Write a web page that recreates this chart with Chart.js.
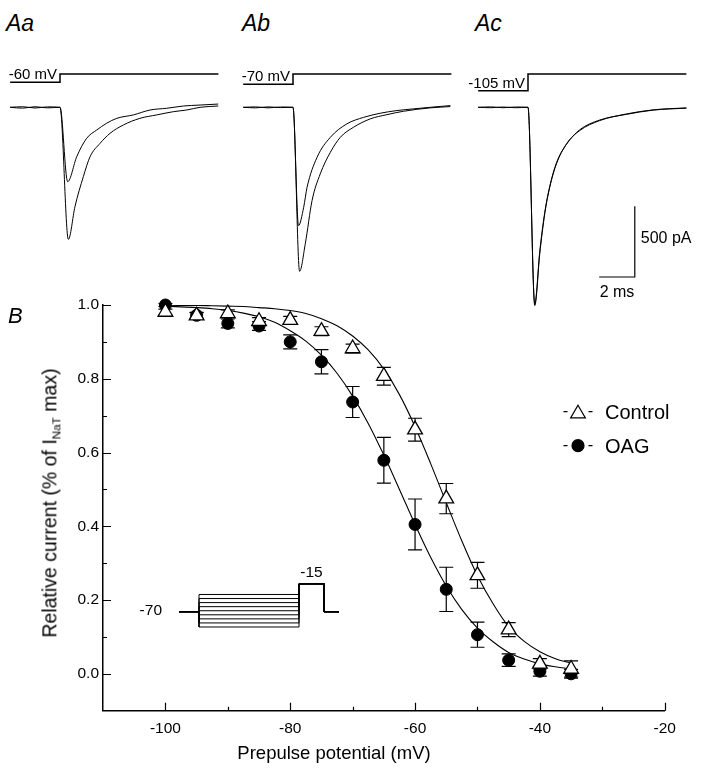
<!DOCTYPE html>
<html>
<head>
<meta charset="utf-8">
<script src="https://cdn.jsdelivr.net/npm/chart.js@4.4.1/dist/chart.umd.min.js"></script>
<style>
  html, body { margin: 0; padding: 0; background: #fff; }
  #fig { position: relative; width: 704px; height: 773px; overflow: hidden;
         font-family: "Liberation Sans", Arial, Helvetica, sans-serif; color: #000; }
  #fig canvas { position: absolute; }
  .lbl { position: absolute; line-height: 1; white-space: nowrap; }
  .panel { font-size: 23px; font-style: italic; }
  #ytitle { left: 51px; top: 503px; font-size: 19.5px; transform: translate(-50%, -50%) rotate(-90deg); }
  #ytitle sub { font-size: 0.6em; vertical-align: -0.3em; }
  #xtitle { left: 334px; top: 744px; font-size: 18.5px; transform: translateX(-50%); }
</style>
</head>
<body>
<div id="fig">
  <canvas id="traceAa" width="230" height="250" style="left:0px;top:60px"></canvas>
  <canvas id="traceAb" width="230" height="250" style="left:233px;top:60px"></canvas>
  <canvas id="traceAc" width="230" height="250" style="left:468px;top:60px"></canvas>
  <canvas id="ssiChart" width="704" height="483" style="left:0px;top:290px"></canvas>

  <div class="lbl panel" style="left:6px;top:12px">Aa</div>
  <div class="lbl panel" style="left:242px;top:12px">Ab</div>
  <div class="lbl panel" style="left:475px;top:12px">Ac</div>
  <div class="lbl panel" style="left:8px;top:305px;font-size:22px">B</div>
  <div class="lbl" id="ytitle">Relative current (% of I<sub>NaT</sub> max)</div>
  <div class="lbl" id="xtitle">Prepulse potential (mV)</div>
</div>

<script>
// -----------------------------
// Panel B data
// -----------------------------
const prepulseMv  = [-100, -95, -90, -85, -80, -75, -70, -65, -60, -55, -50, -45, -40, -35];
const controlMean = [0.981, 0.971, 0.977, 0.956, 0.959, 0.929, 0.882, 0.807, 0.662, 0.475, 0.267, 0.120, 0.027, 0.013];
const controlSem  = [0.008, 0.008, 0.010, 0.010, 0.010, 0.012, 0.012, 0.024, 0.031, 0.041, 0.035, 0.019, 0.014, 0.022];
const oagMean     = [1.000, 0.972, 0.950, 0.943, 0.900, 0.846, 0.737, 0.579, 0.405, 0.229, 0.106, 0.037, 0.007, 0.000];
const oagSem      = [0.004, 0.008, 0.012, 0.012, 0.019, 0.033, 0.042, 0.062, 0.069, 0.060, 0.034, 0.017, 0.013, 0.012];

// fitted curves, every 2.5 mV
const fitMv      = [-100, -97.5, -95, -92.5, -90, -87.5, -85, -82.5, -80, -77.5, -75, -72.5, -70, -67.5,
                    -65, -62.5, -60, -57.5, -55, -52.5, -50, -47.5, -45, -42.5, -40, -37.5, -35];
const controlFit = [1.000, 0.999, 0.999, 0.998, 0.997, 0.996, 0.993, 0.990, 0.985, 0.977, 0.963, 0.944, 0.916, 0.878,
                    0.826, 0.757, 0.670, 0.570, 0.464, 0.360, 0.266, 0.190, 0.128, 0.088, 0.060, 0.041, 0.029];
const oagFit     = [0.997, 0.995, 0.993, 0.990, 0.985, 0.978, 0.968, 0.953, 0.930, 0.902, 0.864, 0.815, 0.753, 0.679,
                    0.593, 0.500, 0.405, 0.316, 0.238, 0.174, 0.124, 0.087, 0.058, 0.040, 0.027, 0.019, 0.013];

// protocol inset (schematic): times in ms, levels in mV
const protoTimes     = [0, 4, 4, 24, 24, 29, 29, 32];
const protoHold      = -70;
const protoTest      = -15;
const prepulseLevels = [-36, -44, -52, -60, -68, -76, -84, -92, -100];

// -----------------------------
// Panel A traces (ms, pA)
// -----------------------------
const stepT  = [-2.8, 0, 0, 8.9];
const aaVolt = [-60, -60, -15, -15];
const abVolt = [-70, -70, -15, -15];
const acVolt = [-105, -105, -15, -15];

const aaCtlT = [-2.8, -2.1, -1.4, -0.7, 0, 0.47, 0.84, 1.31, 1.69, 2.25, 2.81, 3.56, 4.49, 5.43, 6.37, 7.12, 7.87, 8.89];
const aaCtlI = [0, 4, -5, 3, 0, -934, -703, -491, -349, -255, -184, -125, -78, -54, -31, -19, 0, 9];
const aaOagT = [-2.8, -2.1, -1.4, -0.7, 0, 0.43, 0.94, 1.50, 2.06, 2.62, 3.19, 4.12, 5.06, 5.99, 6.93, 7.87, 8.89];
const aaOagI = [0, -6, 4, -4, 0, -526, -349, -219, -161, -113, -78, -54, -19, -7, 9, 16, 23];

const abCtlT = [-2.8, -2.1, -1.4, -0.7, 0, 0.37, 0.69, 1.07, 1.53, 2.10, 2.66, 3.40, 4.34, 5.28, 6.21, 7.71, 8.84];
const abCtlI = [0, -4, 3, -2, 0, -1160, -965, -660, -471, -318, -212, -141, -82, -52, -28, -4, 5];
const abOagT = [-2.8, -2.1, -1.4, -0.7, 0, 0.31, 0.60, 0.79, 1.35, 2.10, 3.03, 3.97, 4.90, 5.84, 6.78, 7.71, 8.84];
const abOagI = [0, 3, -4, 2, 0, -837, -707, -566, -354, -212, -117, -71, -42, -23, -11, 0, 12];

const acCtlT = [-2.8, -2.1, -1.4, -0.7, 0, 0.38, 0.66, 0.94, 1.22, 1.60, 2.16, 2.90, 4.03, 5.53, 7.03, 8.90];
const acCtlI = [0, 3, -3, 2, 0, -1402, -1037, -754, -566, -400, -259, -165, -94, -47, -18, -4];
const acOagT = [-2.8, -2.1, -1.4, -0.7, 0, 0.38, 0.66, 0.94, 1.22, 1.60, 2.16, 2.90, 4.03, 5.53, 7.03, 8.90];
const acOagI = [0, -3, 2, -3, 0, -1390, -1020, -745, -560, -392, -262, -160, -90, -50, -20, -6];

// scale bar: 2 ms x 500 pA
const scaleBarT = [4, 6, 6];
const scaleBarI = [-1200, -1200, -700];

const FONT = '"Liberation Sans", Arial, Helvetica, sans-serif';
const pairs = (xs, ys) => xs.map((x, i) => ({ x: x, y: ys[i] }));

// -----------------------------
// Trace panels
// -----------------------------
const traceText = {
    id: 'traceText',
    afterDraw(chart, args, opts) {
        const { ctx } = chart;
        const x = chart.scales.x, y = chart.scales.y, v = chart.scales.v;
        ctx.save();
        ctx.fillStyle = '#000';
        ctx.font = '15px ' + FONT;
        ctx.textAlign = 'right';
        ctx.textBaseline = 'alphabetic';
        ctx.fillText(opts.hold + ' mV', x.getPixelForValue(0) - 3, v.getPixelForValue(opts.hold) - 3);
        if (opts.bar) {
            ctx.font = '16px ' + FONT;
            ctx.textAlign = 'left';
            ctx.textBaseline = 'middle';
            ctx.fillText('500 pA', x.getPixelForValue(scaleBarT[2]) + 6,
                y.getPixelForValue((scaleBarI[1] + scaleBarI[2]) / 2) - 3);
            ctx.textAlign = 'center';
            ctx.textBaseline = 'top';
            ctx.fillText('2 ms', x.getPixelForValue((scaleBarT[0] + scaleBarT[1]) / 2),
                y.getPixelForValue(scaleBarI[0]) + 8);
        }
        ctx.restore();
    }
};

function makeTrace(id, traces, volt, hold, withBar) {
    const datasets = traces.map(tr => ({
        data: pairs(tr[0], tr[1]),
        borderColor: '#000',
        borderWidth: 1,
        pointRadius: 0,
        cubicInterpolationMode: 'monotone',
        yAxisID: 'y'
    }));
    datasets.push({
        data: pairs(stepT, volt),
        borderColor: '#000',
        borderWidth: 1.5,
        pointRadius: 0,
        yAxisID: 'v'
    });
    if (withBar) {
        datasets.push({
            data: pairs(scaleBarT, scaleBarI),
            borderColor: '#000',
            borderWidth: 1.2,
            pointRadius: 0,
            yAxisID: 'y'
        });
    }
    return new Chart(document.getElementById(id).getContext('2d'), {
        type: 'line',
        data: { datasets },
        options: {
            responsive: false,
            animation: false,
            devicePixelRatio: 1,
            layout: { padding: 0 },
            plugins: {
                legend: { display: false },
                tooltip: { enabled: false },
                traceText: { hold: hold, bar: withBar }
            },
            scales: {
                x: { type: 'linear', display: false, min: -3.371, max: 9.551 },
                y: { type: 'linear', display: false, min: -1433.5, max: 334.5 },
                v: { type: 'linear', axis: 'y', display: false, min: -1290.7, max: 60.7 }
            }
        },
        plugins: [traceText]
    });
}

makeTrace('traceAa', [[aaCtlT, aaCtlI], [aaOagT, aaOagI]], aaVolt, -60, false);
makeTrace('traceAb', [[abCtlT, abCtlI], [abOagT, abOagI]], abVolt, -70, false);
makeTrace('traceAc', [[acCtlT, acCtlI], [acOagT, acOagI]], acVolt, -105, true);

// -----------------------------
// Panel B plugins
// -----------------------------
const innerTicks = {
    id: 'innerTicks',
    afterDraw(chart) {
        const { ctx, chartArea: a } = chart;
        const x = chart.scales.x, y = chart.scales.y;
        ctx.save();
        ctx.strokeStyle = '#000';
        ctx.lineWidth = 1.2;
        ctx.beginPath();
        x.ticks.forEach(t => {
            if (t.value <= x.min) return;
            const px = Math.round(x.getPixelForValue(t.value)) + 0.5;
            const len = t.value % 20 === 0 ? 8 : 4;
            ctx.moveTo(px, a.bottom);
            ctx.lineTo(px, a.bottom - len);
        });
        y.ticks.forEach(t => {
            const k = Math.round(t.value * 10);
            if (k < 0) return;
            const py = Math.round(y.getPixelForValue(t.value)) + 0.5;
            const len = k % 2 === 0 ? 8 : 4;
            ctx.moveTo(a.left, py);
            ctx.lineTo(a.left + len, py);
        });
        ctx.stroke();
        ctx.restore();
    }
};

const errorBars = {
    id: 'errorBars',
    beforeDatasetsDraw(chart) {
        const { ctx } = chart;
        const y = chart.scales.y;
        ctx.save();
        ctx.strokeStyle = '#000';
        ctx.lineWidth = 1.2;
        chart.data.datasets.forEach((ds, i) => {
            if (!ds.errorBars) return;
            chart.getDatasetMeta(i).data.forEach((pt, j) => {
                const m = ds.data[j].y, e = ds.errorBars[j];
                const top = y.getPixelForValue(m + e), bot = y.getPixelForValue(m - e);
                ctx.beginPath();
                ctx.moveTo(pt.x, top); ctx.lineTo(pt.x, bot);
                ctx.moveTo(pt.x - 7, top); ctx.lineTo(pt.x + 7, top);
                ctx.moveTo(pt.x - 7, bot); ctx.lineTo(pt.x + 7, bot);
                ctx.stroke();
            });
        });
        ctx.restore();
    }
};

function drawMarker(ctx, style, x, y, r) {
    ctx.beginPath();
    if (style === 'triangle') {
        const s = Math.sin(Math.PI / 3) * r;
        ctx.moveTo(x, y - r);
        ctx.lineTo(x + s, y + r / 2);
        ctx.lineTo(x - s, y + r / 2);
        ctx.closePath();
        ctx.fillStyle = '#fff';
    } else {
        ctx.arc(x, y, r, 0, Math.PI * 2);
        ctx.fillStyle = '#000';
    }
    ctx.fill();
    ctx.stroke();
}

const legendBox = {
    id: 'legendBox',
    afterDraw(chart) {
        const { ctx, chartArea: a } = chart;
        const rows = chart.data.datasets.filter(ds => ds.legendRow !== undefined);
        ctx.save();
        ctx.strokeStyle = '#000';
        ctx.lineWidth = 1.2;
        rows.forEach(ds => {
            const cx = a.left + 475, cy = a.top + 106.7 + ds.legendRow * 34;
            ctx.beginPath();
            ctx.moveTo(cx - 14.5, cy); ctx.lineTo(cx - 10.5, cy);
            ctx.moveTo(cx + 10.5, cy); ctx.lineTo(cx + 14.5, cy);
            ctx.stroke();
            drawMarker(ctx, ds.pointStyle, cx, cy + (ds.pointStyle === 'triangle' ? 2 : 0), ds.pointRadius);
            ctx.fillStyle = '#000';
            ctx.font = '20px ' + FONT;
            ctx.textAlign = 'left';
            ctx.textBaseline = 'alphabetic';
            ctx.fillText(ds.label, cx + 27, cy + 7.2);
        });
        ctx.restore();
    }
};

const protocolText = {
    id: 'protocolText',
    afterDraw(chart) {
        const { ctx } = chart;
        const xp = chart.scales.xp, yp = chart.scales.yp;
        ctx.save();
        ctx.fillStyle = '#000';
        ctx.font = '15.5px ' + FONT;
        ctx.textAlign = 'right';
        ctx.textBaseline = 'middle';
        ctx.fillText(String(protoHold), xp.getPixelForValue(protoTimes[0]) - 17, yp.getPixelForValue(protoHold) - 1);
        ctx.textAlign = 'center';
        ctx.textBaseline = 'alphabetic';
        ctx.fillText(String(protoTest), xp.getPixelForValue((protoTimes[4] + protoTimes[5]) / 2), yp.getPixelForValue(protoTest) - 7);
        ctx.restore();
    }
};

// protocol polylines, one per prepulse level, separated by gaps
const protocolPoints = [];
prepulseLevels.forEach(v => {
    const levels = [protoHold, protoHold, v, v, protoTest, protoTest, protoHold, protoHold];
    protoTimes.forEach((t, i) => protocolPoints.push({ x: t, y: levels[i] }));
    protocolPoints.push({ x: protoTimes[protoTimes.length - 1], y: null });
});

// -----------------------------
// Panel B chart
// -----------------------------
new Chart(document.getElementById('ssiChart').getContext('2d'), {
    type: 'line',
    data: {
        datasets: [
            {
                label: 'Control',
                data: pairs(prepulseMv, controlMean),
                errorBars: controlSem,
                legendRow: 0,
                showLine: false,
                pointStyle: 'triangle',
                pointRadius: 8.5,
                pointBorderWidth: 1.3,
                pointBorderColor: '#000',
                pointBackgroundColor: '#fff',
                clip: false,
                order: 1
            },
            {
                label: 'OAG',
                data: pairs(prepulseMv, oagMean),
                errorBars: oagSem,
                legendRow: 1,
                showLine: false,
                pointStyle: 'circle',
                pointRadius: 6,
                pointBorderWidth: 1,
                pointBorderColor: '#000',
                pointBackgroundColor: '#000',
                clip: false,
                order: 1
            },
            {
                data: pairs(fitMv, controlFit),
                borderColor: '#000',
                borderWidth: 1.1,
                pointRadius: 0,
                cubicInterpolationMode: 'monotone',
                order: 2
            },
            {
                data: pairs(fitMv, oagFit),
                borderColor: '#000',
                borderWidth: 1.1,
                pointRadius: 0,
                cubicInterpolationMode: 'monotone',
                order: 2
            },
            {
                data: protocolPoints,
                xAxisID: 'xp',
                yAxisID: 'yp',
                borderColor: '#000',
                borderWidth: 1,
                pointRadius: 0,
                spanGaps: false,
                order: 3
            }
        ]
    },
    options: {
        responsive: false,
        animation: false,
        devicePixelRatio: 1,
        layout: { padding: { top: 15, right: 39.3, bottom: 0, left: 0 } },
        plugins: {
            legend: { display: false },
            tooltip: { enabled: false }
        },
        scales: {
            x: {
                type: 'linear',
                min: -110,
                max: -20,
                afterFit: s => { s.height = 62.3; },
                grid: { display: false, drawTicks: false },
                border: { display: true, color: '#000', width: 1.5 },
                ticks: {
                    stepSize: 10,
                    autoSkip: false,
                    maxRotation: 0,
                    padding: 9,
                    color: '#000',
                    font: { family: FONT, size: 15.5 },
                    callback: v => (v % 20 === 0 ? String(v) : '')
                }
            },
            y: {
                type: 'linear',
                min: -0.1,
                max: 1.0,
                afterFit: s => { s.width = 103; },
                grid: { display: false, drawTicks: false },
                border: { display: true, color: '#000', width: 1.5 },
                ticks: {
                    stepSize: 0.1,
                    autoSkip: false,
                    padding: 4,
                    color: '#000',
                    font: { family: FONT, size: 15.5 },
                    callback: v => {
                        const k = Math.round(v * 10);
                        return (k >= 0 && k % 2 === 0) ? (k / 10).toFixed(1) : '';
                    }
                }
            },
            xp: { type: 'linear', axis: 'x', display: false, min: -15.2, max: 97.14 },
            yp: { type: 'linear', axis: 'y', display: false, min: -264.8, max: 533.9 }
        }
    },
    plugins: [errorBars, innerTicks, legendBox, protocolText]
});
</script>
</body>
</html>
